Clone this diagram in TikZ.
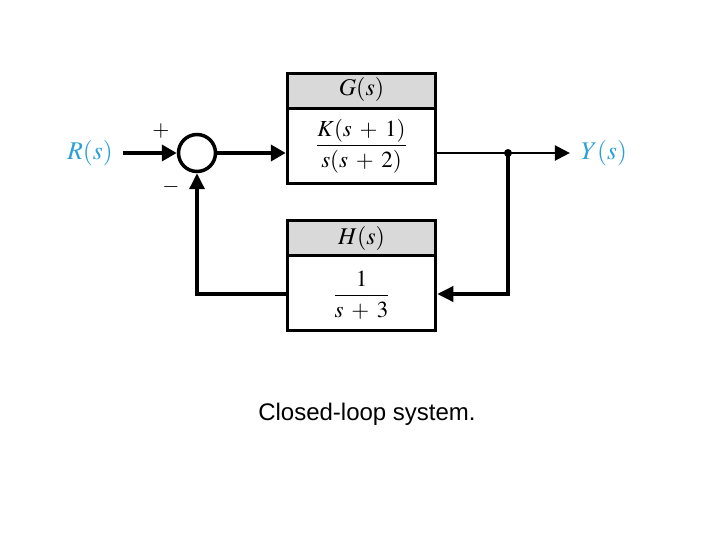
\documentclass[tikz,border=0pt]{standalone}
\usepackage{mathptmx}
\usepackage{fontspec}
\setmainfont{Liberation Serif}
\setsansfont{Liberation Sans}
\usetikzlibrary{arrows.meta}
\definecolor{sigblue}{RGB}{45,160,215}
\definecolor{hdrgray}{RGB}{217,217,217}
\tikzset{
  blockbox/.style={draw, line width=3.5pt, minimum width=148pt, minimum height=110pt, inner sep=0pt},
  hdr/.style={fill=hdrgray},
  ltext/.style={font=\fontsize{24}{28}\selectfont, inner sep=0pt},
  mtext/.style={font=\fontsize{23}{27}\selectfont, inner sep=0pt},
  sig/.style={line width=4pt, -{Triangle[length=15pt,width=16pt]}},
  outsig/.style={line width=2.5pt, -{Triangle[length=15pt,width=15pt]}},
  fbarrow/.style={line width=3.5pt, -{Triangle[length=16pt,width=15pt]}},
  sumcircle/.style={circle, draw, line width=3.5pt, minimum size=37pt, inner sep=0pt},
  sigtext/.style={font=\fontsize{25.5}{30}\selectfont, text=sigblue, inner sep=0pt},
  signtext/.style={font=\fontsize{22}{26}\selectfont, inner sep=0pt},
}
\begin{document}
\begin{tikzpicture}[x=1pt,y=-1pt]
\useasboundingbox (0,0) rectangle (720,540);
\medmuskip=6mu
% G block
\node[blockbox] (G) at (361.5,128.5) {};
\fill[hdr] (G.north west) rectangle ([yshift=-37pt]G.north east);
\draw[line width=3pt] ([yshift=-37pt]G.north west) -- ([yshift=-37pt]G.north east);
\node[blockbox] at (G) {};
\node[ltext] (Glbl) at (361.5,90) {$G(s)$};
\node[mtext] (Gtf) at (361.5,146) {$\displaystyle\frac{K(s + 1)}{s(s + 2)}$};
% H block
\node[blockbox] (H) at (361.5,275.5) {};
\fill[hdr] (H.north west) rectangle ([yshift=-37pt]H.north east);
\draw[line width=3pt] ([yshift=-37pt]H.north west) -- ([yshift=-37pt]H.north east);
\node[blockbox] at (H) {};
\node[ltext] (Hlbl) at (361.5,238) {$H(s)$};
\node[mtext] (Htf) at (361.5,295) {$\displaystyle\frac{1}{s + 3}$};
% summing junction
\node[sumcircle] (sum) at (197,153) {};
\node[signtext] (plus) at (161,131) {$+$};
\node[signtext] (minus) at (171,187) {$-$};
% signals
\node[sigtext, outer sep=0pt] (R) at (90,153) {$R(s)$};
\node[sigtext] (Y) at (604,153) {$Y(s)$};
\draw[sig, shorten <=10pt] (R.east) -- (sum.west);
\draw[sig] (sum.east) -- (G.west |- sum);
\coordinate (dot) at (508,153);
\draw[outsig, shorten >=11pt] (G.east |- dot) -- (Y.west |- dot);
\fill (dot) circle (4pt);
\coordinate (fbr) at (508,294);
\coordinate (fbl) at (197,294);
\draw[fbarrow] (dot) -- (fbr) -- (fbr -| H.east);
\draw[fbarrow] (fbl -| H.west) -- (fbl) -- (sum.south);
% caption
\node[font=\sffamily\fontsize{24}{28}\selectfont, inner sep=0pt] (cap) at (367,414) {Closed-loop system.};
\end{tikzpicture}
\end{document}
